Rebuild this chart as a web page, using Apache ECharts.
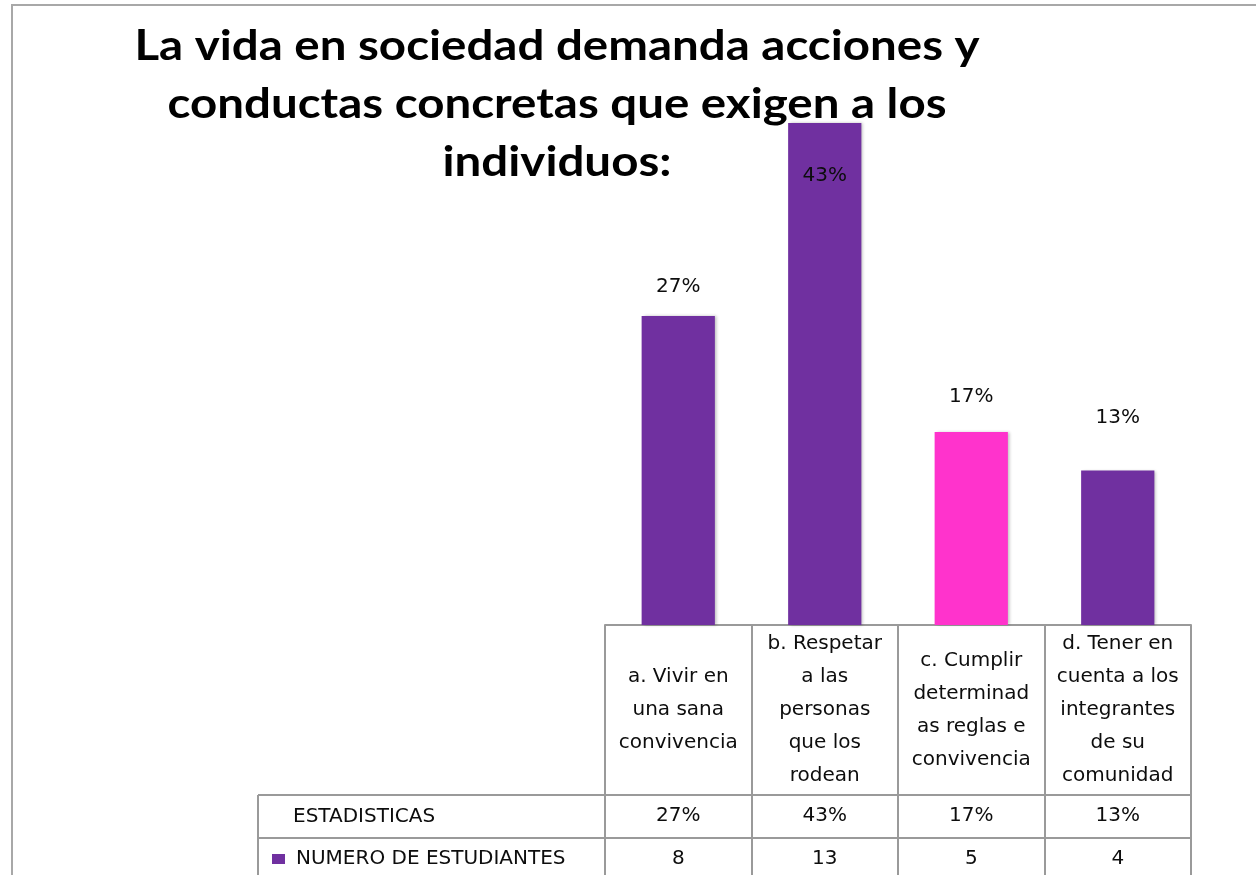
<!DOCTYPE html>
<html><head><meta charset="utf-8">
<script src="https://cdn.jsdelivr.net/npm/echarts@6/dist/echarts.min.js"></script>
<style>html,body{margin:0;padding:0;background:#fff}#c{width:1256px;height:875px}</style>
</head><body><div id="c"></div>
<script>
const titleText = 'La vida en sociedad demanda acciones y\nconductas concretas que exigen a los\nindividuos:';
const categories = ['a. Vivir en\nuna sana\nconvivencia', 'b. Respetar\na las\npersonas\nque los\nrodean', 'c. Cumplir\ndeterminad\nas reglas e\nconvivencia', 'd. Tener en\ncuenta a los\nintegrantes\nde su\ncomunidad'];
const percentLabels = ['27%', '43%', '17%', '13%'];
const studentCounts = [8, 13, 5, 4];
const seriesName = 'NUMERO DE ESTUDIANTES';
const rowHeader1 = 'ESTADISTICAS';

const PURPLE = '#7030A0', PINK = '#FF33CC', LINE = '#9a9a9a', TXT = '#0d0d0d';
const TFONT = 'Lato, "Open Sans", sans-serif';
const FONT = '"DejaVu Sans", Verdana, sans-serif';
const barColors = [PURPLE, PURPLE, PINK, PURPLE];
const labelCfg = [
  {position: 'top', distance: 19},
  {position: 'insideTop', distance: 43},
  {position: 'top', distance: 25},
  {position: 'top', distance: 43}
];

const chart = echarts.init(document.getElementById('c'));
const gridLeft = 605, gridRight = 65, gridTop = 123, gridBottom = 250;
const H = 875;
const axisY = H - gridBottom;           // 625
const headerH = 170, row1H = 43;
const tableLeft = 258;
const FS = 20;

const cellFont = {fontFamily: FONT, fontSize: FS, color: TXT};

chart.setOption({
  animation: false,
  backgroundColor: '#fff',
  legend: {
    data: [seriesName], left: 272, top: 849, icon: 'rect', itemWidth: 13, itemHeight: 10, itemGap: 11,
    textStyle: {fontFamily: FONT, fontSize: FS, color: TXT, padding: [0, 0, 0, 6]}, padding: 0
  },
  grid: {left: gridLeft, right: gridRight, top: gridTop, bottom: gridBottom},
  xAxis: [
    {type: 'category', data: categories, position: 'bottom',
      axisLine: {show: true, lineStyle: {color: LINE, width: 2}},
      axisTick: {show: true, length: headerH, interval: 0, lineStyle: {color: LINE, width: 2}},
      axisLabel: Object.assign({interval: 0, margin: 85, verticalAlign: 'middle', lineHeight: 33, align: 'center'}, cellFont)},
    {type: 'category', data: percentLabels, position: 'bottom', offset: headerH,
      axisLine: {show: true, lineStyle: {color: LINE, width: 2}},
      axisTick: {show: true, length: row1H, interval: 0, lineStyle: {color: LINE, width: 2}},
      axisLabel: Object.assign({interval: 0, margin: 21, verticalAlign: 'middle'}, cellFont)},
    {type: 'category', data: studentCounts.map(String), position: 'bottom', offset: headerH + row1H,
      axisLine: {show: true, lineStyle: {color: LINE, width: 2}},
      axisTick: {show: true, length: 45, interval: 0, lineStyle: {color: LINE, width: 2}},
      axisLabel: Object.assign({interval: 0, margin: 21, verticalAlign: 'middle'}, cellFont)}
  ],
  yAxis: {type: 'value', min: 0, max: 'dataMax', show: false, splitLine: {show: false}},
  series: [{
    name: seriesName, type: 'bar', xAxisIndex: 0, barWidth: '50%',
    itemStyle: {color: PURPLE, shadowColor: 'rgba(0,0,0,0.25)', shadowBlur: 3, shadowOffsetX: 2},
    data: studentCounts.map((v, i) => ({
      value: v,
      itemStyle: {color: barColors[i]},
      label: {show: true, position: labelCfg[i].position, distance: labelCfg[i].distance,
        formatter: () => percentLabels[i], fontFamily: FONT, fontSize: FS, color: TXT}
    }))
  }],
  graphic: [
    {type: 'rect', shape: {x: 12, y: 5, width: 1400, height: 1000}, style: {fill: 'none', stroke: '#a8a8a8', lineWidth: 2}, silent: true, z: -1},
    {type: 'text', x: 557, y: 17, scaleX: 1.13, scaleY: 1,
      style: {text: titleText, font: 'bold 42px ' + TFONT, fill: '#000', align: 'center', textAlign: 'center', lineHeight: 58}},
    {type: 'line', shape: {x1: tableLeft, y1: axisY + headerH, x2: gridLeft, y2: axisY + headerH}, style: {stroke: LINE, lineWidth: 2}},
    {type: 'line', shape: {x1: tableLeft, y1: axisY + headerH + row1H, x2: gridLeft, y2: axisY + headerH + row1H}, style: {stroke: LINE, lineWidth: 2}},
    {type: 'line', shape: {x1: tableLeft, y1: axisY + headerH, x2: tableLeft, y2: H + 5}, style: {stroke: LINE, lineWidth: 2}},
    {type: 'text', x: 293, y: axisY + headerH + row1H / 2, style: {text: rowHeader1, font: FS + 'px ' + FONT, fill: TXT, verticalAlign: 'middle', textVerticalAlign: 'middle'}}
  ]
});
</script></body></html>
